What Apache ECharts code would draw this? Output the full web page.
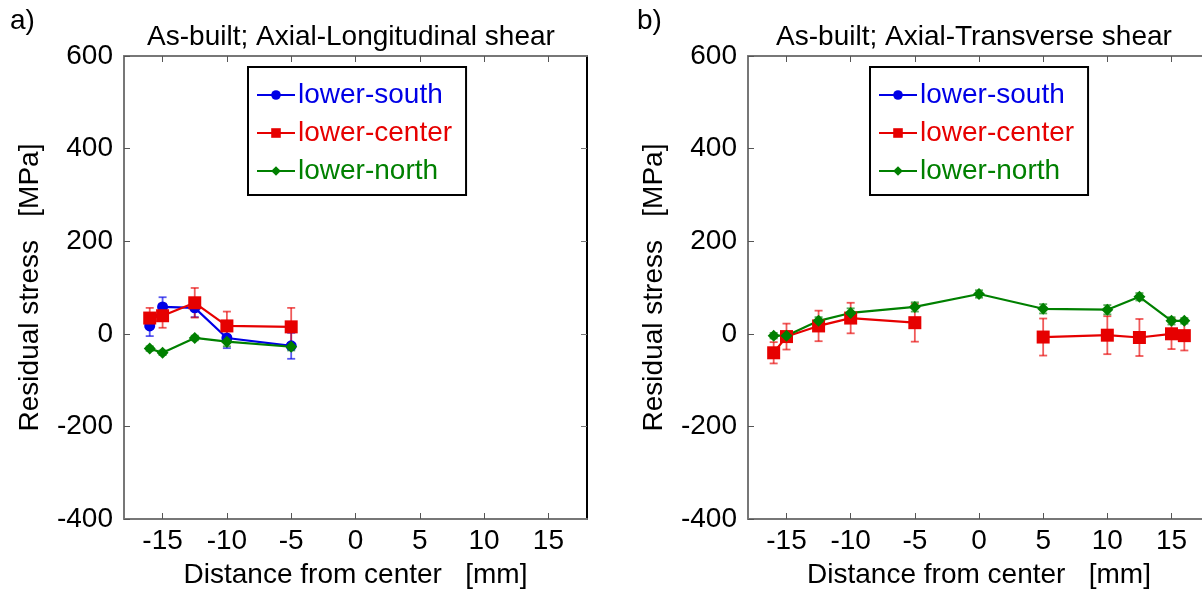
<!DOCTYPE html>
<html lang="en">
<head>
    <meta charset="UTF-8">
    <title>Residual stress</title>
    <script src="https://cdn.jsdelivr.net/npm/echarts@6/dist/echarts.min.js"></script>
    <style>
        * { margin: 0; padding: 0; }
        body { width: 1202px; height: 596px; overflow: hidden; background: #fff; }
        #chart { width: 1214px; height: 596px; }
    </style>
</head>
<body>
    <div id="chart"></div>
    <script>
        // ---- data ----
        const xTicks = [-15, -10, -5, 0, 5, 10, 15]

        // a) Axial-Longitudinal shear
        const xA = [-16, -15, -12.5, -10, -5]
        const southA = [17, 58, 56, -9, -26]
        const southAErr = [22, 21, 20, 22, 28]
        const centerA = [34, 39, 67, 17, 15]
        const centerAErr = [22, 26, 32, 31, 41]
        const northA = [-32, -41, -9, -17, -28]
        const northAErr = [5, 5, 5, 10, 8]

        // b) Axial-Transverse shear
        const xB = [-16, -15, -12.5, -10, -5, 0, 5, 10, 12.5, 15, 16]
        const centerB = [-41, -6, 17, 34, 24, null, -7, -3, -8, 0, -4]
        const centerBErr = [23, 28, 33, 33, 41, null, 40, 41, 40, 33, 32]
        const northB = [-4, -4, 28, 45, 58, 86, 54, 52, 80, 28, 28]
        const northBErr = [6, 6, 8, 10, 10, 8, 10, 10, 8, 8, 6]

        const names = ['lower-south', 'lower-center', 'lower-north']
        const colors = ['#0000e6', '#e60000', '#008000']
        const errColors = ['rgba(0,0,230,0.65)', 'rgba(230,0,0,0.65)', 'rgba(0,128,0,0.65)']
        const FONT = 'Liberation Sans, Arial, sans-serif'

        const chart = echarts.init(document.querySelector('#chart'))

        function pairs(xs, ys) {
            return xs.map((x, i) => [x, ys[i]])
        }
        function errData(xs, ys, es) {
            const out = []
            xs.forEach((x, i) => {
                if (ys[i] != null) out.push([x, ys[i] - es[i], ys[i] + es[i]])
            })
            return out
        }

        function errSeries(idx, xs, ys, es, c) {
            return {
                type: 'custom',
                xAxisIndex: idx * 2,
                yAxisIndex: idx * 2,
                z: 1,
                silent: true,
                data: errData(xs, ys, es),
                renderItem: function (params, api) {
                    const top = api.coord([api.value(0), api.value(2)])
                    const bot = api.coord([api.value(0), api.value(1)])
                    const w = 4
                    const st = { stroke: errColors[c], lineWidth: 1.8 }
                    return {
                        type: 'group',
                        children: [
                            { type: 'line', shape: { x1: top[0], y1: top[1], x2: bot[0], y2: bot[1] }, style: st },
                            { type: 'line', shape: { x1: top[0] - w, y1: top[1], x2: top[0] + w, y2: top[1] }, style: st },
                            { type: 'line', shape: { x1: bot[0] - w, y1: bot[1], x2: bot[0] + w, y2: bot[1] }, style: st }
                        ]
                    }
                }
            }
        }

        const symbols = ['circle', 'rect', 'diamond']
        const symSizes = [11, 13, 12]
        function lineSeries(idx, c, xs, ys) {
            return {
                name: names[c],
                type: 'line',
                xAxisIndex: idx * 2,
                yAxisIndex: idx * 2,
                z: 3,
                data: pairs(xs, ys),
                symbol: symbols[c],
                symbolSize: symSizes[c],
                showSymbol: true,
                connectNulls: false,
                animation: false,
                color: colors[c],
                itemStyle: { color: colors[c] },
                lineStyle: { width: 2.2, color: colors[c] }
            }
        }

        const grids = [
            { left: 124, top: 56, width: 463, height: 463 },
            { left: 748, top: 56, width: 462, height: 463 }
        ]

        const xAxes = []
        const yAxes = []
        grids.forEach((g, i) => {
            xAxes.push({
                gridIndex: i, type: 'value', min: -18, max: 18, position: 'bottom',
                name: 'Distance from center   [mm]', nameLocation: 'middle', nameGap: 42,
                nameTextStyle: { fontSize: 28, fontFamily: FONT, color: '#000' },
                axisLine: { onZero: false, lineStyle: { color: '#777', width: 2 } },
                axisTick: { inside: true, length: 6, customValues: xTicks, lineStyle: { color: '#555' } },
                axisLabel: { customValues: xTicks, fontSize: 28, fontFamily: FONT, color: '#000', margin: 8 },
                splitLine: { show: false }
            })
            xAxes.push({
                gridIndex: i, type: 'value', min: -18, max: 18, position: 'top',
                axisLine: { onZero: false, lineStyle: { color: '#777', width: 2 } },
                axisTick: { inside: true, length: 6, customValues: xTicks, lineStyle: { color: '#555' } },
                axisLabel: { show: false },
                splitLine: { show: false }
            })
            yAxes.push({
                gridIndex: i, type: 'value', min: -400, max: 600, interval: 200, position: 'left',
                name: 'Residual stress   [MPa]', nameLocation: 'middle', nameGap: 80, nameRotate: 90,
                nameTextStyle: { fontSize: 28, fontFamily: FONT, color: '#000' },
                axisLine: { show: true, onZero: false, lineStyle: { color: '#777', width: 2 } },
                axisTick: { show: true, inside: true, length: 6, lineStyle: { color: '#555' } },
                axisLabel: { fontSize: 28, fontFamily: FONT, color: '#000', margin: 11 },
                splitLine: { show: false }
            })
            yAxes.push({
                gridIndex: i, type: 'value', min: -400, max: 600, interval: 200, position: 'right',
                axisLine: { show: true, onZero: false, lineStyle: { color: '#000', width: 2 } },
                axisTick: { show: true, inside: true, length: 6, lineStyle: { color: '#777' } },
                axisLabel: { show: false },
                splitLine: { show: false }
            })
        })

        function legendAt(left) {
            return {
                orient: 'vertical', left: left, top: 67,
                padding: [12, 14, 8, 8],
                borderColor: '#000', borderWidth: 2, borderRadius: 0,
                backgroundColor: '#fff',
                itemWidth: 38, itemHeight: 12, itemGap: 6,
                selectedMode: false,
                textStyle: { fontSize: 28, fontFamily: FONT, lineHeight: 32, padding: [0, 0, 0, -2] },
                data: names.map((n, c) => ({ name: n, textStyle: { color: colors[c] } }))
            }
        }

        const option = {
            animation: false,
            textStyle: { fontFamily: FONT },
            grid: grids,
            xAxis: xAxes,
            yAxis: yAxes,
            legend: [legendAt(248), legendAt(870)],
            graphic: [
                { type: 'text', left: 10, top: 7, style: { text: 'a)', fontSize: 28, fontFamily: FONT, fill: '#000' } },
                { type: 'text', left: 637, top: 7, style: { text: 'b)', fontSize: 28, fontFamily: FONT, fill: '#000' } },
                { type: 'text', x: 351, y: 37, style: { text: 'As-built; Axial-Longitudinal shear', fontSize: 28, fontFamily: FONT, fill: '#000', align: 'center', verticalAlign: 'middle' } },
                { type: 'text', x: 974, y: 37, style: { text: 'As-built; Axial-Transverse shear', fontSize: 28, fontFamily: FONT, fill: '#000', align: 'center', verticalAlign: 'middle' } }
            ],
            series: [
                errSeries(0, xA, southA, southAErr, 0),
                errSeries(0, xA, centerA, centerAErr, 1),
                errSeries(0, xA, northA, northAErr, 2),
                lineSeries(0, 0, xA, southA),
                lineSeries(0, 1, xA, centerA),
                lineSeries(0, 2, xA, northA),
                errSeries(1, xB, centerB, centerBErr, 1),
                errSeries(1, xB, northB, northBErr, 2),
                lineSeries(1, 0, [], []),
                lineSeries(1, 1, xB, centerB),
                lineSeries(1, 2, xB, northB)
            ]
        }

        chart.setOption(option)
    </script>
</body>
</html>
